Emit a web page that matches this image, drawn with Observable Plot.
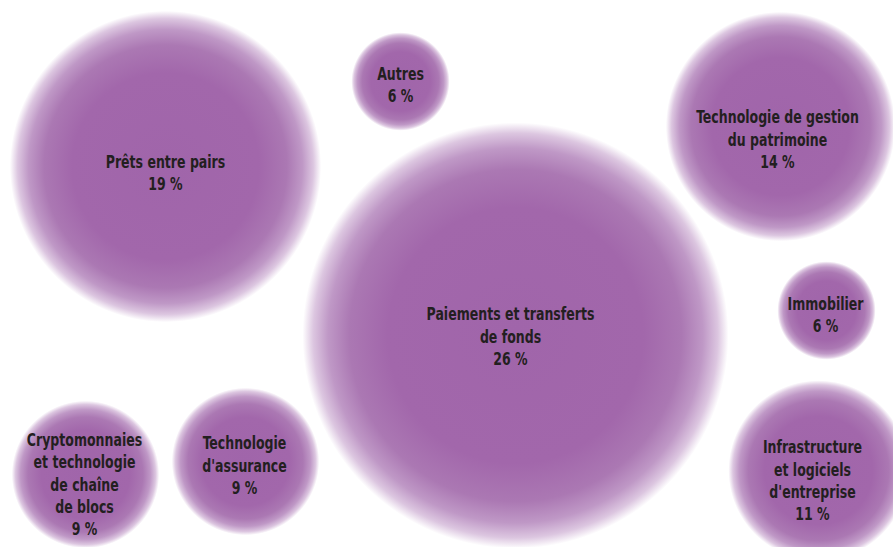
<!DOCTYPE html>
<html>
<head>
<meta charset="utf-8">
<script src="https://cdn.jsdelivr.net/npm/d3@7"></script>
<script src="https://cdn.jsdelivr.net/npm/@observablehq/plot@0.6"></script>
<style>
  html, body { margin: 0; padding: 0; background: #ffffff; }
  #chart svg { display: block; }
</style>
</head>
<body>
<div id="chart"></div>
<script>
// Categories (label lines) and shares (%)
const categories = [
  "Prêts entre pairs",
  "Autres",
  "Technologie de gestion\ndu patrimoine",
  "Paiements et transferts\nde fonds",
  "Immobilier",
  "Cryptomonnaies\net technologie\nde chaîne\nde blocs",
  "Technologie\nd'assurance",
  "Infrastructure\net logiciels\nd'entreprise"
];
const shares = [19, 6, 14, 26, 6, 9, 9, 11];

// Bubble layout (chart units)
const bubbleX = [165, 400, 780, 515, 826, 85, 245, 818];
const bubbleY = [166, 81, 126, 335, 310, 474, 461, 470];
const labelX = [165, 400, 777, 510, 825, 84, 244, 812];
const labelY = [171, 83, 138, 335, 313, 483, 464, 479];

const rows = categories.map((c, i) => ({
  label: c + "\n" + shares[i] + " %",
  value: shares[i],
  bx: bubbleX[i], by: bubbleY[i],
  lx: labelX[i], ly: labelY[i]
}));

const W = 893, H = 547;

const gradientDefs = () => {
  const ns = "http://www.w3.org/2000/svg";
  const defs = document.createElementNS(ns, "defs");
  const g = document.createElementNS(ns, "radialGradient");
  g.setAttribute("id", "bubbleGrad");
  g.setAttribute("cx", "50%"); g.setAttribute("cy", "50%"); g.setAttribute("r", "50%");
  const stops = [
    [0, "#a065aa"],
    [0.6, "#a267ab"],
    [0.78, "#ab78b3"],
    [0.88, "#bf98c6"],
    [0.95, "#dcc6e0"],
    [1, "#ffffff"]
  ];
  for (const [o, c] of stops) {
    const s = document.createElementNS(ns, "stop");
    s.setAttribute("offset", o);
    s.setAttribute("stop-color", c);
    g.appendChild(s);
  }
  defs.appendChild(g);
  return defs;
};

// Narrow the label glyphs horizontally (condensed look)
function condensed(index, scales, values, dimensions, context, next) {
  const g = next(index, scales, values, dimensions, context);
  g.querySelectorAll("text").forEach((t) => {
    let tr = t.getAttribute("transform");
    if (!tr) {
      const x = +t.getAttribute("x") || 0, y = +t.getAttribute("y") || 0;
      t.removeAttribute("x"); t.removeAttribute("y");
      tr = `translate(${x},${y})`;
    }
    t.setAttribute("transform", tr + " scale(0.82,1)");
  });
  return g;
}

const chart = Plot.plot({
  width: W,
  height: H,
  margin: 0,
  x: {domain: [0, W], range: [0, W], axis: null},
  y: {domain: [0, H], range: [0, H], axis: null},
  r: {type: "linear", domain: [0, 26], range: [0, 213]},
  style: {background: "#ffffff"},
  marks: [
    gradientDefs,
    Plot.dot(rows, {
      x: "bx", y: "by", r: "value",
      fill: "url(#bubbleGrad)", stroke: "none"
    }),
    Plot.text(rows, {
      x: "lx", y: "ly", text: "label",
      fill: "#231f20",
      fontSize: 17,
      fontWeight: "bold",
      fontFamily: "'DejaVu Sans Condensed', 'DejaVu Sans', sans-serif",
      lineHeight: 1.3,
      lineAnchor: "middle",
      textAnchor: "middle",
      render: condensed
    })
  ]
});

document.getElementById("chart").appendChild(chart);
</script>
</body>
</html>
